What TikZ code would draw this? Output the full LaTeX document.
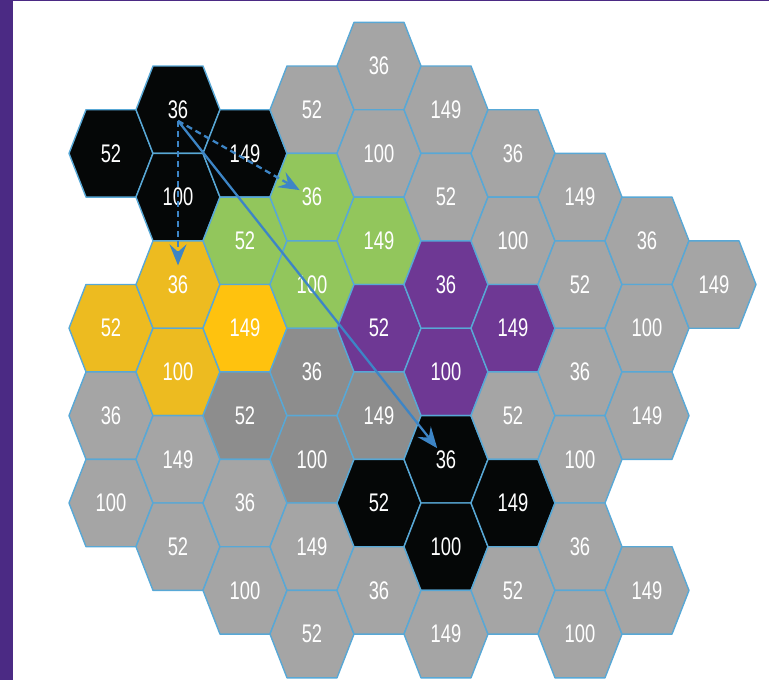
\documentclass[tikz,border=0pt]{standalone}
\usepackage{xcolor}
\usepackage{fontspec}
\newfontfamily\hexfont{Liberation Sans}[FakeStretch=0.72]
\usepackage{tikz}
\usetikzlibrary{calc,arrows.meta}

\definecolor{hexgray}{HTML}{A5A5A5}
\definecolor{hexdark}{HTML}{8D8D8D}
\definecolor{hexblack}{HTML}{050707}
\definecolor{hexyellow}{HTML}{EDBB20}
\definecolor{hexgold}{HTML}{FFC20E}
\definecolor{hexgreen}{HTML}{92C65C}
\definecolor{hexpurple}{HTML}{6E3894}
\definecolor{hexedge}{HTML}{58A8D6}
\definecolor{arrowblue}{HTML}{3D85C6}
\definecolor{framepurple}{HTML}{4B2A84}

\tikzset{
	hexline/.style={draw=hexedge,line width=0.8pt,line join=round},
	hexlabel/.style={text=white,inner sep=1pt,font=\hexfont\fontsize{14.5}{14.5}\selectfont},
	flow/.style={arrowblue,line width=1.3pt,->},
	dashflow/.style={flow,dash pattern=on 3.5pt off 2.2pt}
}

\begin{document}
\begin{tikzpicture}[x=0.02cm,y=-0.02cm,>={Stealth[length=4.2mm,width=3.4mm,inset=1.5mm]}]
			
			\useasboundingbox (0,0) rectangle (769,680);
			
			% 边框
			\fill[framepurple] (0,0) rectangle (13,680);
			\fill[framepurple] (0,0) rectangle (769,1.3);
			
			% 六边形
			\foreach \c/\k/\t/\f in {
				0/2/52/hexblack, 0/6/52/hexyellow, 0/8/36/hexgray, 0/10/100/hexgray,
				1/1/36/hexblack, 1/3/100/hexblack, 1/5/36/hexyellow, 1/7/100/hexyellow, 1/9/149/hexgray, 1/11/52/hexgray,
				2/2/149/hexblack, 2/4/52/hexgreen, 2/6/149/hexgold, 2/8/52/hexdark, 2/10/36/hexgray, 2/12/100/hexgray,
				3/1/52/hexgray, 3/3/36/hexgreen, 3/5/100/hexgreen, 3/7/36/hexdark, 3/9/100/hexdark, 3/11/149/hexgray, 3/13/52/hexgray,
				4/0/36/hexgray, 4/2/100/hexgray, 4/4/149/hexgreen, 4/6/52/hexpurple, 4/8/149/hexdark, 4/10/52/hexblack, 4/12/36/hexgray,
				5/1/149/hexgray, 5/3/52/hexgray, 5/5/36/hexpurple, 5/7/100/hexpurple, 5/9/36/hexblack, 5/11/100/hexblack, 5/13/149/hexgray,
				6/2/36/hexgray, 6/4/100/hexgray, 6/6/149/hexpurple, 6/8/52/hexgray, 6/10/149/hexblack, 6/12/52/hexgray,
				7/3/149/hexgray, 7/5/52/hexgray, 7/7/36/hexgray, 7/9/100/hexgray, 7/11/36/hexgray, 7/13/100/hexgray,
				8/4/36/hexgray, 8/6/100/hexgray, 8/8/149/hexgray, 8/12/149/hexgray,
				9/5/149/hexgray}
			{
				\pgfmathsetmacro\x{111+67*\c}
				\pgfmathsetmacro\y{66+43.7*\k}
				\draw[hexline,fill=\f] (\x-42,\y) -- (\x-25,\y-43.7) -- (\x+25,\y-43.7)
				-- (\x+42,\y) -- (\x+25,\y+43.7) -- (\x-25,\y+43.7) -- cycle;
				\node[hexlabel] (h\c-\k) at (\x,\y) {\t};
			}
			
			% 箭头
			\draw[dashflow,shorten >=1.6mm] (h1-1.south) -- (h1-5);
			\draw[dashflow] (h1-1.south) -- (h3-3);
			\draw[flow] (h1-1.south) -- (h5-9);
			
		\end{tikzpicture}
\end{document}
